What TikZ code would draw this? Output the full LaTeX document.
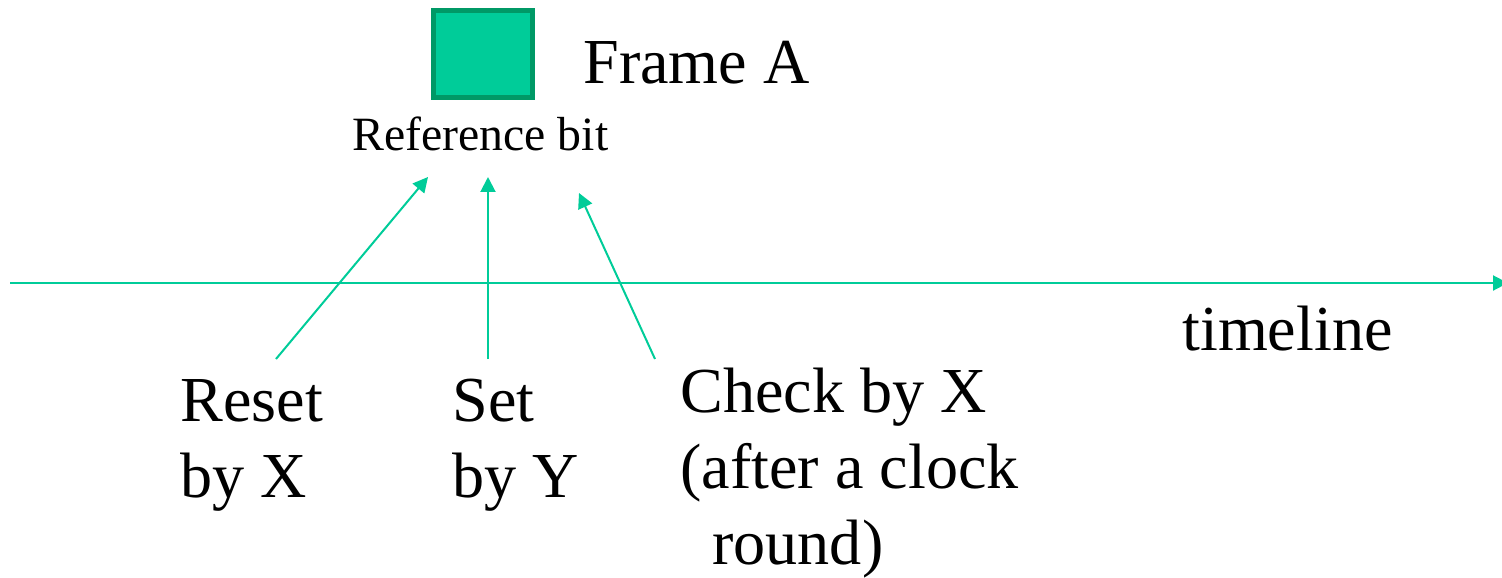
\documentclass[tikz,border=0pt]{standalone}
\usepackage{fontspec}
\setmainfont{Liberation Serif}
\usetikzlibrary{arrows.meta}
\definecolor{frmfill}{RGB}{0,204,153}
\definecolor{frmbdr}{RGB}{0,153,102}
\definecolor{lineclr}{RGB}{0,204,153}
\tikzset{
  %% frame square
  frm/.style={rectangle,draw=frmbdr,fill=frmfill,line width=2.85pt,
    minimum width=1.98cm,minimum height=1.74cm,inner sep=0pt},
  %% labels (multi-line ones sit on the baseline of their last line)
  bigtxt/.style={font=\fontsize{36.5}{43}\selectfont,inner sep=0pt,
    anchor=base west,align=left,text=black},
  smltxt/.style={font=\fontsize{27.2}{32}\selectfont,inner sep=0pt,
    anchor=base west,text=black},
  %% arrows
  arr/.style={-{Triangle[length=0.3cm,width=0.3cm]},line width=1.14pt,color=lineclr},
}
\begin{document}
\begin{tikzpicture}[x=0.02cm,y=-0.02cm]
  \useasboundingbox (0,0) rectangle (1502,578);

  %% frame A and its reference bit
  \node[frm] (frame) at (483,54) {};
  \node[bigtxt] (frmlbl) at (583,83) {Frame A};
  \node[smltxt] (refbit) at (352,150) {Reference bit};

  %% timeline
  \coordinate (tlstart) at (10,283);
  \coordinate (tlend)   at (1508,283);
  \draw[arr] (tlstart) -- (tlend);
  \node[bigtxt] (tllbl) at (1182,350) {timeline};

  %% events on the timeline
  \node[bigtxt] (reset) at (180,497) {Reset\\by X};
  \node[bigtxt] (set)   at (452,497) {Set\\by Y};
  \node[bigtxt] (check) at (680,564) {Check by X\\(after a clock\\\hspace*{0.5em}round)};

  %% arrow ends
  \coordinate (resettail) at (276,359);
  \coordinate (resethead) at (428,177);
  \coordinate (settail)   at (488,359);
  \coordinate (sethead)   at (488,177);
  \coordinate (checktail) at (655,359);
  \coordinate (checkhead) at (579,193);

  %% ── arrows ──────────────────────────────────────────────────────────────
  \draw[arr] (resettail) -- (resethead);
  \draw[arr] (settail)   -- (sethead);
  \draw[arr] (checktail) -- (checkhead);

\end{tikzpicture}
\end{document}
